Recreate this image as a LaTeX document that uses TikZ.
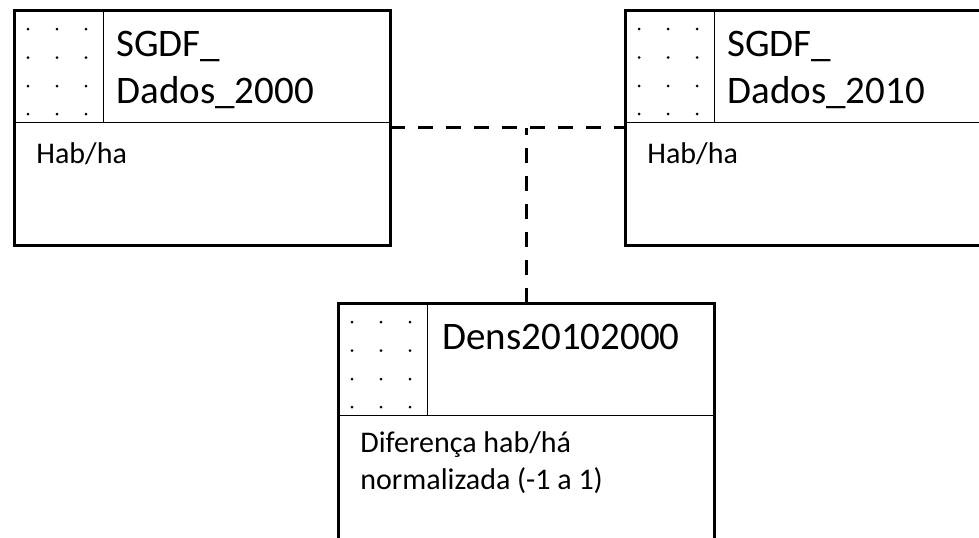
\documentclass[tikz,border=0pt]{standalone}
\usepackage{fontspec}
\setmainfont{Carlito}
\begin{document}
\begin{tikzpicture}[x=0.5pt, y=-0.5pt,
	tabela/.style={draw, line width=1.5pt, minimum width=188pt, minimum height=117.5pt, inner sep=0pt, outer sep=0pt},
	fina/.style={line width=0.5pt},
	ligacao/.style={line width=1.5pt, dash pattern=on 7.5pt off 6.5pt},
	titulo/.style={anchor=north west, inner sep=0pt, align=left, font=\fontsize{19.5}{23.5}\selectfont},
	campo/.style={anchor=north west, inner sep=0pt, align=left, font=\fontsize{15}{18.5}\selectfont}]
	\useasboundingbox (0,0) rectangle (979,537);
	\clip (0,0) rectangle (979,537);
	\node[tabela] (d2000) at (202,127.5) {};
	\node[tabela] (d2010) at (813,127.5) {};
	\node[tabela, minimum height=122pt] (dens) at (526,425) {};
	\foreach \t in {d2000,d2010,dens}{
		\draw[fina] ([yshift=-56pt]\t.north west) -- ([yshift=-56pt]\t.north east);
		\draw[fina] ([xshift=44.5pt]\t.north west) -- ([xshift=44.5pt,yshift=-56pt]\t.north west);
		\foreach \i in {7,21.5,36}{
			\foreach \j in {9.5,23.75,38,52}{\fill ([xshift=\i pt,yshift=-\j pt]\t.north west) circle (0.75pt);}
		}
	}
	\node[titulo] (n2000) at ([xshift=51pt,yshift=-10.5pt]d2000.north west) {SGDF\_\\Dados\_2000};
	\node[titulo] (n2010) at ([xshift=51pt,yshift=-10.5pt]d2010.north west) {SGDF\_\\Dados\_2010};
	\node[titulo] (ndens) at ([xshift=52pt,yshift=-10.5pt]dens.north west) {Dens20102000};
	\node[campo] (c2000) at ([xshift=11pt,yshift=-66pt]d2000.north west) {Hab/ha};
	\node[campo] (c2010) at ([xshift=11pt,yshift=-66pt]d2010.north west) {Hab/ha};
	\node[campo] (cdens) at ([xshift=11pt,yshift=-64pt]dens.north west) {Diferença hab/há\\normalizada (-1 a 1)};
	\draw[ligacao] (d2000.east) -- (d2010.west);
	\draw[ligacao] (dens.north) -- (dens.north |- d2000.east);
\end{tikzpicture}
\end{document}
